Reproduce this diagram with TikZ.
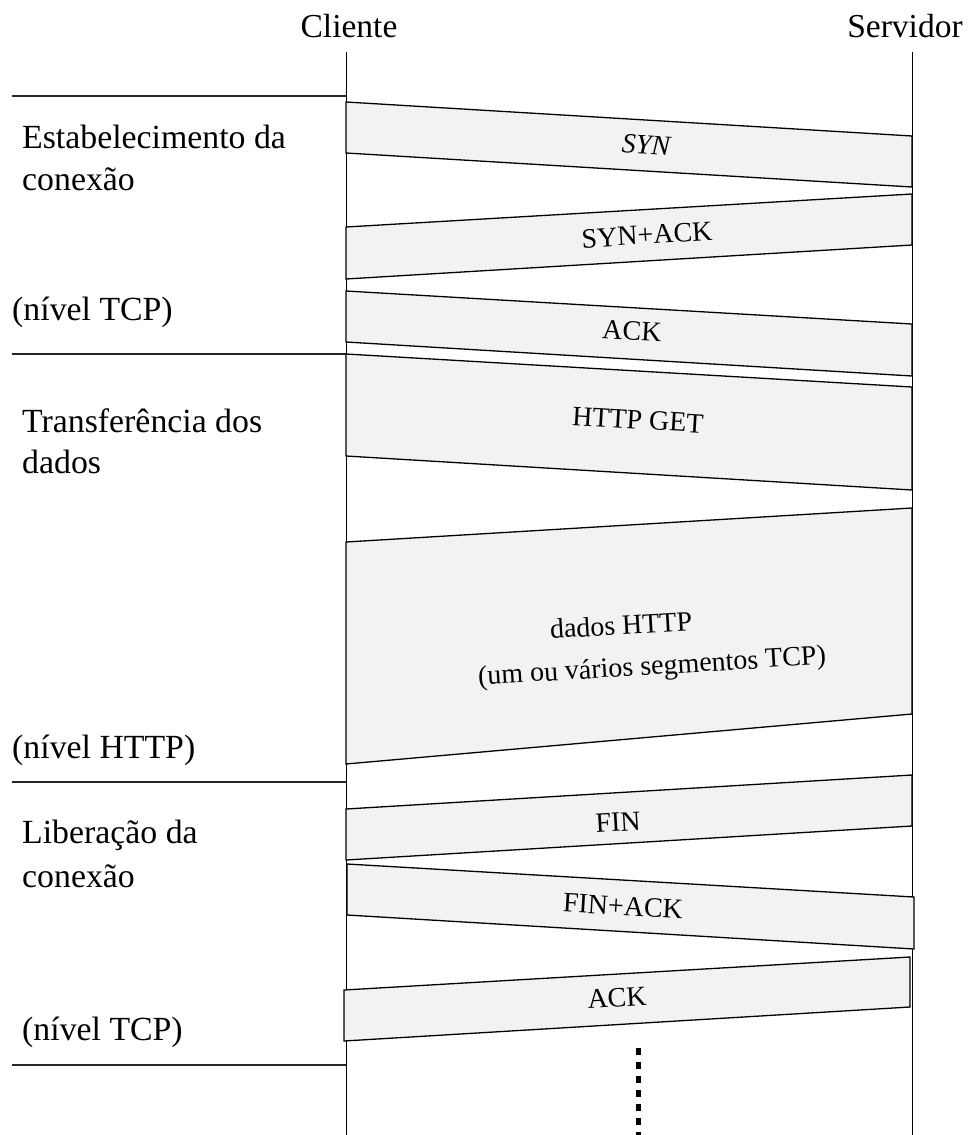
\documentclass[tikz,border=0pt]{standalone}
\usepackage{fontspec}
\setmainfont{Liberation Serif}
\definecolor{pktfill}{RGB}{242,242,242}
\begin{document}
\begin{tikzpicture}[x=1pt,y=-1pt,
  pkt/.style={draw=black,fill=pktfill,line width=1.3pt,line join=miter},
  life/.style={draw=black,line width=1pt},
  sep/.style={draw=black!85,line width=1.2pt},
  lbl/.style={font=\fontsize{33.8}{42}\selectfont,anchor=base west,inner sep=0pt},
  head/.style={font=\fontsize{33.5}{42}\selectfont,anchor=base,inner sep=0pt},
  plbl/.style={font=\fontsize{28}{33}\selectfont,inner sep=0pt},
  dots/.style={draw=black,line width=5pt,dash pattern=on 7pt off 7pt},
]
\useasboundingbox (0,0) rectangle (967,1135);

% headers
\node[head] (cli) at (349,37) {Cliente};
\node[head] (srv) at (905,37) {Servidor};

% lifelines
\coordinate (cliTop) at (346,52);
\coordinate (cliBot) at (346,1135);
\coordinate (srvTop) at (912,52);
\coordinate (srvBot) at (912,1135);
\draw[life] (cliTop) -- (cliBot);
\draw[life] (srvTop) -- (srvBot);

% separators
\coordinate (s1a) at (12,96);   \coordinate (s1b) at (346,96);
\coordinate (s2a) at (12,354);  \coordinate (s2b) at (346,354);
\coordinate (s3a) at (12,782);  \coordinate (s3b) at (346,782);
\coordinate (s4a) at (12,1065); \coordinate (s4b) at (346,1065);
\draw[sep] (s1a) -- (s1b);
\draw[sep] (s2a) -- (s2b);
\draw[sep] (s3a) -- (s3b);
\draw[sep] (s4a) -- (s4b);

% packets
\draw[pkt] (346,102) -- (912,136) -- (912,187) -- (346,153) -- cycle;
\draw[pkt] (346,227) -- (912,194) -- (912,245) -- (346,279) -- cycle;
\draw[pkt] (346,291) -- (912,324) -- (912,376) -- (346,342) -- cycle;
\draw[pkt] (346,354) -- (912,387) -- (912,490) -- (346,456) -- cycle;
\draw[pkt] (346,542) -- (912,508) -- (912,714) -- (346,764) -- cycle;
\draw[pkt] (346,809) -- (912,775) -- (912,826) -- (346,860) -- cycle;
\draw[pkt] (347,864) -- (914,897) -- (914,949) -- (347,915) -- cycle;
\draw[pkt] (344,990) -- (910,957) -- (910,1007) -- (344,1041) -- cycle;

% packet labels
\node[plbl,rotate=-3.4] (syn) at (646,145) {\itshape SYN};
\node[plbl,rotate=3.4] (synack) at (647,235) {SYN+ACK};
\node[plbl,rotate=-3.4] (ack1) at (632,331) {ACK};
\node[plbl,rotate=-3.4] (get) at (638,420) {HTTP GET};
\node[plbl,rotate=3.4] (dados) at (621,625) {dados HTTP};
\node[plbl,rotate=3.4] (segs) at (652,668) {(um ou vários segmentos TCP)};
\node[plbl,rotate=3.4] (fin) at (618,822) {FIN};
\node[plbl,rotate=-3.4] (finack) at (623,906) {FIN+ACK};
\node[plbl,rotate=3.4] (ack2) at (617,998) {ACK};

% dotted continuation
\coordinate (dTop) at (638,1048);
\coordinate (dBot) at (638,1135);
\draw[dots] (dTop) -- (dBot);

% phase labels
\node[lbl] (e1) at (22,148) {Estabelecimento da};
\node[lbl] (e2) at (22,190) {conexão};
\node[lbl] (e3) at (12,320) {(nível TCP)};
\node[lbl] (t1) at (22,432) {Transferência dos};
\node[lbl] (t2) at (22,473) {dados};
\node[lbl] (t3) at (12,758) {(nível HTTP)};
\node[lbl] (l1) at (22,843) {Liberação da};
\node[lbl] (l2) at (22,887) {conexão};
\node[lbl] (l3) at (22,1040) {(nível TCP)};
\end{tikzpicture}
\end{document}
